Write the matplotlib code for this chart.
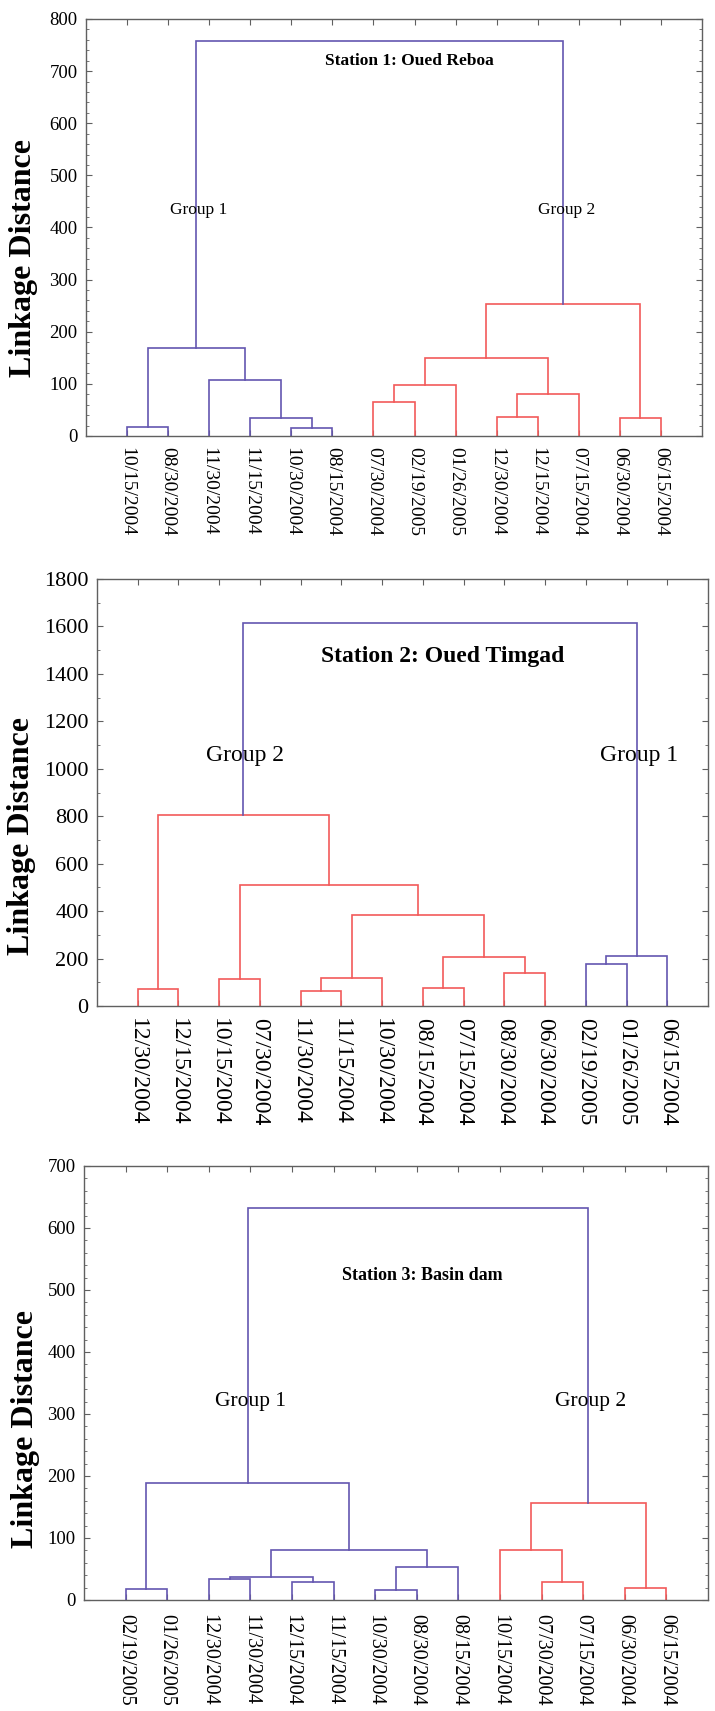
import matplotlib
matplotlib.use("Agg")
import matplotlib.pyplot as plt
from matplotlib.ticker import MultipleLocator

plt.rcParams['font.family'] = ['Liberation Serif', 'DejaVu Serif']

BLUE = '#6456b0'
RED = '#f25a5a'
SPINE = '#606060'

# ---- station 1 ----
leaves1 = ['10/15/2004', '08/30/2004', '11/30/2004', '11/15/2004', '10/30/2004',
           '08/15/2004', '07/30/2004', '02/19/2005', '01/26/2005', '12/30/2004',
           '12/15/2004', '07/15/2004', '06/30/2004', '06/15/2004']
# (node a, node b, linkage distance); leaves are 0..13, merged nodes 14, 15, ...
merges1 = [(0, 1, 17), (4, 5, 16), (3, 15, 35), (2, 16, 107), (14, 17, 169),
           (6, 7, 65), (19, 8, 97), (9, 10, 36), (21, 11, 80), (20, 22, 150),
           (12, 13, 35), (23, 24, 254), (18, 25, 758)]

# ---- station 2 ----
leaves2 = ['12/30/2004', '12/15/2004', '10/15/2004', '07/30/2004', '11/30/2004',
           '11/15/2004', '10/30/2004', '08/15/2004', '07/15/2004', '08/30/2004',
           '06/30/2004', '02/19/2005', '01/26/2005', '06/15/2004']
merges2 = [(0, 1, 72), (2, 3, 115), (4, 5, 62), (16, 6, 119), (7, 8, 75),
           (9, 10, 139), (18, 19, 205), (17, 20, 382), (15, 21, 508), (14, 22, 806),
           (11, 12, 175), (24, 13, 210), (23, 25, 1614)]

# ---- station 3 ----
leaves3 = ['02/19/2005', '01/26/2005', '12/30/2004', '11/30/2004', '12/15/2004',
           '11/15/2004', '10/30/2004', '08/30/2004', '08/15/2004', '10/15/2004',
           '07/30/2004', '07/15/2004', '06/30/2004', '06/15/2004']
merges3 = [(0, 1, 17), (2, 3, 33.5), (4, 5, 29), (15, 16, 37.5), (6, 7, 16.5),
           (18, 8, 53), (17, 19, 80.5), (14, 20, 188), (10, 11, 29), (9, 22, 80),
           (12, 13, 20), (23, 24, 156), (21, 25, 632)]

W, H = 715, 1711
fig = plt.figure(figsize=(W / 100, H / 100), dpi=100)


def dendro(box, leaves, merges, side_colors, ymax, major, minor,
           title, title_xy, groups, fs):
    l, r, t, b = box
    ax = fig.add_axes([l / W, 1 - b / H, (r - l) / W, (b - t) / H])
    n = len(leaves)
    xs = {i: i + 1 for i in range(n)}
    ys = {i: 0 for i in range(n)}
    for k, (a, c, h) in enumerate(merges):
        xs[n + k] = (xs[a] + xs[c]) / 2
        ys[n + k] = h
    # colour: root blue, its two branches by group
    root = n + len(merges) - 1
    col = {root: BLUE}
    ra, rc, _ = merges[-1]
    col[ra], col[rc] = side_colors
    for k in range(len(merges) - 1, -1, -1):
        a, c, h = merges[k]
        col.setdefault(a, col[n + k])
        col.setdefault(c, col[n + k])
    for k, (a, c, h) in enumerate(merges):
        ax.plot([xs[a], xs[a], xs[c], xs[c]], [ys[a], h, h, ys[c]],
                color=col[n + k], lw=1.2, solid_joinstyle='miter')

    ax.set_xlim(0, n + 1)
    ax.set_ylim(0, ymax)
    ax.set_xticks(range(1, n + 1))
    ax.set_xticklabels(leaves, rotation=270, fontsize=fs['x'])
    ax.yaxis.set_major_locator(MultipleLocator(major))
    ax.yaxis.set_minor_locator(MultipleLocator(minor))
    ax.tick_params(axis='both', which='major', direction='in', length=4,
                   width=0.8, color=SPINE, top=True, right=True)
    ax.tick_params(axis='y', which='minor', direction='in', length=2.5,
                   width=0.6, color=SPINE, right=True)
    ax.tick_params(axis='y', labelsize=fs['y'], pad=fs['ypad'])
    ax.tick_params(axis='x', pad=fs['xpad'])
    for s in ax.spines.values():
        s.set_color(SPINE)
        s.set_linewidth(1.0)

    ax.text(title_xy[0], title_xy[1], title, ha='center', va='center',
            fontsize=fs['title'], fontweight='bold')
    for gx, gy, gname in groups:
        ax.text(gx, gy, gname, ha='center', va='center', fontsize=fs['group'])
    fig.text(fs['ylx'] / W, 1 - fs['yly'] / H, 'Linkage Distance', rotation=90,
             ha='center', va='center', fontsize=fs['ylab'], fontweight='bold')
    return ax


dendro((86, 702, 19, 436), leaves1, merges1, (BLUE, RED), 800, 100, 20,
       'Station 1: Oued Reboa', (7.87, 719),
       [(2.75, 433, 'Group 1'), (11.7, 433, 'Group 2')],
       dict(x=14, y=13.5, ypad=6, xpad=8, title=12.5, group=12.5,
            ylab=23, ylx=24, yly=258))

dendro((97, 708, 579, 1006), leaves2, merges2, (RED, BLUE), 1800, 200, 100,
       'Station 2: Oued Timgad', (8.49, 1473),
       [(3.64, 1056, 'Group 2'), (13.3, 1056, 'Group 1')],
       dict(x=17, y=16, ypad=6, xpad=9, title=17, group=17,
            ylab=23, ylx=22, yly=836))

dendro((84, 708, 1166, 1600), leaves3, merges3, (BLUE, RED), 700, 100, 20,
       'Station 3: Basin dam', (8.13, 523),
       [(4.0, 320, 'Group 1'), (12.17, 320, 'Group 2')],
       dict(x=14.5, y=13.5, ypad=6, xpad=10, title=13, group=15.5,
            ylab=23, ylx=25, yly=1429))

fig.savefig('out.png', dpi=100)
